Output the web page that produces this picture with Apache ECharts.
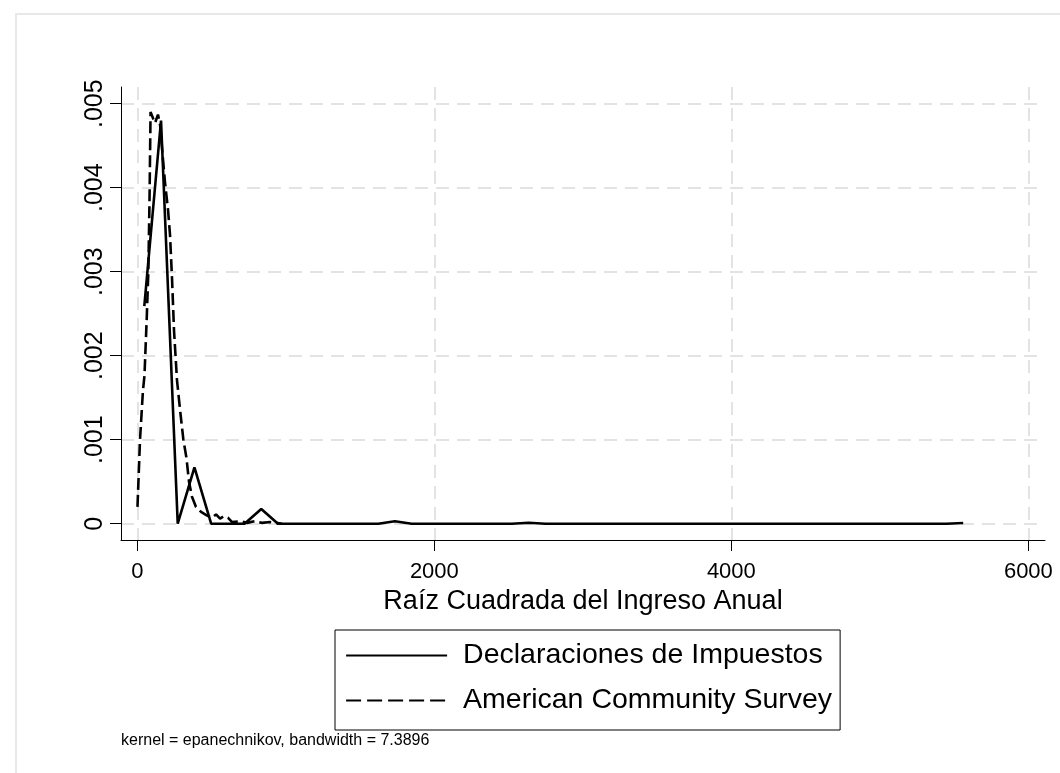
<!DOCTYPE html>
<html><head><meta charset="utf-8">
<script src="https://cdn.jsdelivr.net/npm/echarts@6/dist/echarts.min.js"></script>
<style>html,body{margin:0;padding:0;background:#fff}#c{width:1060px;height:773px}</style>
</head><body><div id="c"></div>
<script>
const xTicks = [0, 2000, 4000, 6000];
const yTicks = [0, 0.001, 0.002, 0.003, 0.004, 0.005];
const yTickLabels = ['0', '.001', '.002', '.003', '.004', '.005'];
const seriesNames = ['Declaraciones de Impuestos', 'American Community Survey'];
const xTitle = 'Raíz Cuadrada del Ingreso Anual';
const noteText = 'kernel = epanechnikov, bandwidth = 7.3896';

// Declaraciones de Impuestos (solid)
const taxX = [47, 159.5, 272, 384.5, 497, 722, 834.5, 947, 1622, 1734.5, 1847, 2522, 2634.5, 2747, 5448.5, 5561];
const taxY = [0.00259, 0.0048, 0, 0.00067, 0, 0, 0.000175, 0, 0, 0.00003, 0, 0, 0.000012, 0, 0, 0.000008];

// American Community Survey (dashed)
const acsX = [1, 18, 38, 48, 63, 74, 82, 89, 102, 119, 139, 153, 173, 186, 207, 220, 234, 247, 267, 288, 310, 331, 348, 368, 395, 429, 467, 501, 530, 557, 584, 611, 638, 692, 739, 793, 840, 894, 974];
const acsY = [0.0002, 0.001, 0.00159, 0.00176, 0.00243, 0.003, 0.00385, 0.0049, 0.00489, 0.00477, 0.00487, 0.00475, 0.00433, 0.00407, 0.00373, 0.00344, 0.0029, 0.0023, 0.00171, 0.00135, 0.001, 0.00078, 0.0005, 0.00032, 0.0002, 0.00014, 0.0001, 0.00007, 0.00011, 0.00006, 0.00009, 0.00007, 0.00002, 0.00003, 0.00001, 0.00003, 0.00001, 0.00002, 0];

const FONT = '"Liberation Sans", Arial, sans-serif';
const chart = echarts.init(document.getElementById('c'), null, {renderer: 'canvas'});
const gridLine = {show: true, lineStyle: {color: '#e3e3e3', width: 2, type: [13, 8]}};
chart.setOption({
  animation: false,
  backgroundColor: '#fff',
  textStyle: {fontFamily: FONT},
  grid: {left: 121, right: 15, top: 87, bottom: 233},
  xAxis: {
    type: 'value', min: -110, max: 6112,
    axisLine: {show: true, onZero: false, lineStyle: {color: '#000', width: 1}},
    axisTick: {show: true, customValues: xTicks, length: 11, lineStyle: {color: '#000', width: 1}},
    axisLabel: {customValues: xTicks, color: '#000', fontSize: 22, fontFamily: FONT, margin: 21,
      formatter: v => String(v)},
    splitLine: gridLine,
    name: xTitle, nameLocation: 'middle', nameGap: 46,
    nameTextStyle: {color: '#000', fontSize: 27, fontFamily: FONT}
  },
  yAxis: {
    type: 'value', min: -0.000194, max: 0.0051988,
    axisLine: {show: true, onZero: false, lineStyle: {color: '#000', width: 1}},
    axisTick: {show: true, customValues: yTicks, length: 11, lineStyle: {color: '#000', width: 1}},
    axisLabel: {customValues: yTicks, rotate: 90, color: '#000', fontSize: 25, fontFamily: FONT, margin: 13,
      formatter: v => { const i = yTicks.findIndex(t => Math.abs(t - v) < 1e-9); return i >= 0 ? yTickLabels[i] : ''; }},
    splitLine: gridLine
  },
  legend: {
    orient: 'vertical', left: 335, top: 630,
    borderColor: '#000', borderWidth: 1, padding: [11, 8, 15, 10],
    itemWidth: 101, itemHeight: 22, itemGap: 16, selectedMode: false,
    itemStyle: {opacity: 0},
    textStyle: {color: '#000', fontSize: 28.5, fontFamily: FONT, padding: [0, 0, 0, 11]},
    data: [
      {name: seriesNames[0], lineStyle: {width: 2.2, type: 'solid'}},
      {name: seriesNames[1], lineStyle: {width: 2.2, type: [15, 6]}}
    ]
  },
  graphic: [
    {type: 'rect', silent: true, shape: {x: 16, y: 14, width: 1100, height: 800},
     style: {fill: 'none', stroke: '#e8e8e8', lineWidth: 2}, z: -10},
    {type: 'text', left: 121, top: 733, silent: true,
     style: {text: noteText, fill: '#000', fontSize: 16, fontFamily: FONT}}
  ],
  series: [
    {name: seriesNames[0], type: 'line', symbol: 'none', showSymbol: false, z: 3,
     lineStyle: {color: '#000', width: 2.6, type: 'solid'}, itemStyle: {color: '#000'},
     data: taxX.map((x, i) => [x, taxY[i]])},
    {name: seriesNames[1], type: 'line', symbol: 'none', showSymbol: false, z: 2,
     lineStyle: {color: '#000', width: 2.6, type: [12, 5]}, itemStyle: {color: '#000'},
     data: acsX.map((x, i) => [x, acsY[i]])}
  ]
});
</script></body></html>
